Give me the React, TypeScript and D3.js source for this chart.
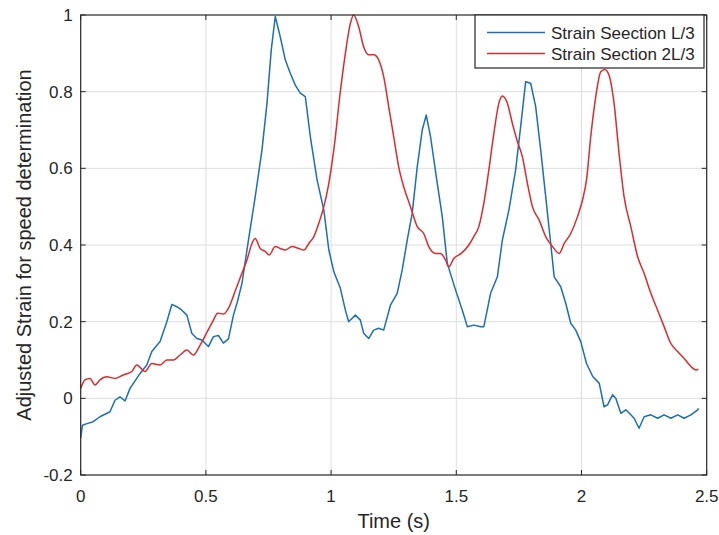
import React, { useRef, useEffect } from "react";
import * as d3 from "d3";

// Strain Seection L/3 (blue)
const blueTime = [0, 0.007, 0.025, 0.05, 0.077, 0.117, 0.137, 0.157, 0.177, 0.197, 0.237, 0.264, 0.284, 0.317, 0.344, 0.364, 0.384, 0.404, 0.424, 0.444, 0.464, 0.484, 0.51, 0.53, 0.55, 0.57, 0.59, 0.61, 0.625, 0.644, 0.67, 0.697, 0.724, 0.744, 0.761, 0.777, 0.797, 0.817, 0.837, 0.857, 0.877, 0.897, 0.917, 0.944, 0.971, 0.991, 1.011, 1.037, 1.057, 1.07, 1.097, 1.117, 1.13, 1.15, 1.17, 1.19, 1.21, 1.237, 1.264, 1.284, 1.304, 1.324, 1.344, 1.364, 1.38, 1.397, 1.424, 1.444, 1.464, 1.497, 1.524, 1.544, 1.57, 1.597, 1.61, 1.637, 1.664, 1.684, 1.71, 1.737, 1.757, 1.777, 1.797, 1.817, 1.837, 1.857, 1.877, 1.891, 1.917, 1.937, 1.957, 1.977, 1.997, 2.02, 2.045, 2.071, 2.09, 2.104, 2.124, 2.137, 2.157, 2.177, 2.197, 2.21, 2.23, 2.25, 2.277, 2.304, 2.33, 2.357, 2.384, 2.41, 2.437, 2.464, 2.467];
const blueStrain = [-0.104, -0.07, -0.066, -0.061, -0.048, -0.035, -0.005, 0.004, -0.007, 0.026, 0.065, 0.087, 0.122, 0.148, 0.2, 0.245, 0.239, 0.23, 0.217, 0.169, 0.156, 0.152, 0.135, 0.161, 0.164, 0.144, 0.155, 0.217, 0.25, 0.3, 0.413, 0.526, 0.648, 0.77, 0.909, 0.996, 0.943, 0.883, 0.848, 0.817, 0.796, 0.787, 0.683, 0.57, 0.491, 0.387, 0.33, 0.287, 0.23, 0.2, 0.217, 0.204, 0.17, 0.156, 0.178, 0.183, 0.178, 0.243, 0.274, 0.335, 0.413, 0.483, 0.604, 0.7, 0.739, 0.683, 0.561, 0.474, 0.352, 0.283, 0.23, 0.187, 0.191, 0.187, 0.187, 0.274, 0.317, 0.413, 0.491, 0.596, 0.709, 0.826, 0.822, 0.761, 0.648, 0.526, 0.404, 0.317, 0.291, 0.248, 0.196, 0.178, 0.148, 0.091, 0.057, 0.039, -0.022, -0.017, 0.009, 0.0, -0.039, -0.03, -0.043, -0.052, -0.078, -0.048, -0.043, -0.052, -0.043, -0.052, -0.043, -0.052, -0.043, -0.03, -0.026];

// Strain Section 2L/3 (red)
const redTime = [0, 0.017, 0.037, 0.057, 0.077, 0.104, 0.137, 0.17, 0.204, 0.224, 0.257, 0.284, 0.317, 0.344, 0.37, 0.397, 0.424, 0.45, 0.477, 0.504, 0.527, 0.547, 0.571, 0.59, 0.617, 0.64, 0.664, 0.684, 0.697, 0.717, 0.737, 0.753, 0.777, 0.797, 0.817, 0.844, 0.871, 0.891, 0.911, 0.931, 0.951, 0.971, 0.991, 1.014, 1.035, 1.057, 1.077, 1.09, 1.11, 1.13, 1.15, 1.17, 1.19, 1.21, 1.23, 1.25, 1.27, 1.29, 1.317, 1.344, 1.37, 1.39, 1.417, 1.437, 1.457, 1.47, 1.49, 1.52, 1.55, 1.57, 1.59, 1.61, 1.63, 1.65, 1.67, 1.684, 1.704, 1.724, 1.744, 1.764, 1.784, 1.804, 1.831, 1.857, 1.884, 1.911, 1.931, 1.957, 1.984, 2.005, 2.02, 2.037, 2.057, 2.077, 2.093, 2.11, 2.13, 2.15, 2.17, 2.197, 2.224, 2.25, 2.277, 2.304, 2.33, 2.357, 2.384, 2.41, 2.437, 2.457, 2.467];
const redStrain = [0.026, 0.048, 0.052, 0.035, 0.048, 0.056, 0.052, 0.061, 0.07, 0.087, 0.07, 0.091, 0.087, 0.1, 0.1, 0.113, 0.126, 0.113, 0.139, 0.172, 0.2, 0.222, 0.22, 0.235, 0.28, 0.32, 0.361, 0.404, 0.417, 0.391, 0.383, 0.374, 0.396, 0.391, 0.387, 0.396, 0.391, 0.387, 0.404, 0.422, 0.457, 0.5, 0.561, 0.665, 0.79, 0.9, 0.978, 1.0, 0.97, 0.917, 0.896, 0.896, 0.883, 0.839, 0.761, 0.683, 0.604, 0.552, 0.5, 0.448, 0.43, 0.396, 0.378, 0.378, 0.361, 0.343, 0.365, 0.378, 0.4, 0.422, 0.448, 0.509, 0.596, 0.691, 0.77, 0.789, 0.77, 0.717, 0.67, 0.63, 0.561, 0.5, 0.465, 0.422, 0.396, 0.378, 0.404, 0.43, 0.474, 0.52, 0.57, 0.683, 0.787, 0.852, 0.858, 0.843, 0.77, 0.639, 0.526, 0.448, 0.37, 0.326, 0.274, 0.23, 0.187, 0.143, 0.122, 0.104, 0.083, 0.074, 0.076];

const xTicks = [0, 0.5, 1, 1.5, 2, 2.5];
const yTicks = [-0.2, 0, 0.2, 0.4, 0.6, 0.8, 1];
const seriesNames = ["Strain Seection L/3", "Strain Section 2L/3"];
const seriesColors = ["#1a6fb8", "#dc2a2e"];

const FONT = "Arial, 'Liberation Sans', Helvetica, sans-serif";

const StrainChart = ({ width = 719, height = 535 }) => {
    const svgRef = useRef(null);

    useEffect(() => {
        const svg = d3.select(svgRef.current);
        svg.selectAll("*").remove();

        const margin = { top: 15, right: 12.3, bottom: 60, left: 80.7 };
        const x0 = margin.left;
        const x1 = width - margin.right;
        const y0 = height - margin.bottom;
        const y1 = margin.top;

        const xScale = d3.scaleLinear().domain([0, 2.5]).range([x0, x1]);
        const yScale = d3.scaleLinear().domain([-0.2, 1]).range([y0, y1]);

        svg.append("rect").attr("width", width).attr("height", height).attr("fill", "#fff");

        // grid
        const grid = svg.append("g").attr("stroke", "#dedede").attr("stroke-width", 1);
        xTicks.slice(1, -1).forEach(t => {
            grid.append("line")
                .attr("x1", xScale(t)).attr("x2", xScale(t))
                .attr("y1", y1).attr("y2", y0);
        });
        yTicks.slice(1, -1).forEach(t => {
            grid.append("line")
                .attr("x1", x0).attr("x2", x1)
                .attr("y1", yScale(t)).attr("y2", yScale(t));
        });

        // series: blue is raw/noisy, red is smooth
        const blueLine = d3.line().x(d => xScale(d[0])).y(d => yScale(d[1]));
        const redLine = d3.line().x(d => xScale(d[0])).y(d => yScale(d[1])).curve(d3.curveMonotoneX);
        const series = [
            { pts: d3.zip(blueTime, blueStrain), gen: blueLine },
            { pts: d3.zip(redTime, redStrain), gen: redLine },
        ];
        series.forEach((s, i) => {
            svg.append("path")
                .datum(s.pts)
                .attr("d", s.gen)
                .attr("fill", "none")
                .attr("stroke", seriesColors[i])
                .attr("stroke-width", 1.5)
                .attr("stroke-linejoin", "round");
        });

        // box + inward ticks
        const axisColor = "#262626";
        svg.append("rect")
            .attr("x", x0).attr("y", y1)
            .attr("width", x1 - x0).attr("height", y0 - y1)
            .attr("fill", "none").attr("stroke", axisColor).attr("stroke-width", 1.2);

        const ticks = svg.append("g").attr("stroke", axisColor).attr("stroke-width", 1);
        xTicks.forEach(t => {
            ticks.append("line").attr("x1", xScale(t)).attr("x2", xScale(t)).attr("y1", y0).attr("y2", y0 - 5);
            ticks.append("line").attr("x1", xScale(t)).attr("x2", xScale(t)).attr("y1", y1).attr("y2", y1 + 5);
        });
        yTicks.forEach(t => {
            ticks.append("line").attr("x1", x0).attr("x2", x0 + 5).attr("y1", yScale(t)).attr("y2", yScale(t));
            ticks.append("line").attr("x1", x1).attr("x2", x1 - 5).attr("y1", yScale(t)).attr("y2", yScale(t));
        });

        // tick labels
        svg.append("g")
            .selectAll("text")
            .data(xTicks)
            .enter()
            .append("text")
            .attr("x", d => xScale(d))
            .attr("y", y0 + 27)
            .attr("text-anchor", "middle")
            .attr("font-family", FONT)
            .attr("font-size", 17)
            .attr("fill", axisColor)
            .text(d => String(d));

        svg.append("g")
            .selectAll("text")
            .data(yTicks)
            .enter()
            .append("text")
            .attr("x", x0 - 8)
            .attr("y", d => yScale(d) + 6)
            .attr("text-anchor", "end")
            .attr("font-family", FONT)
            .attr("font-size", 17)
            .attr("fill", axisColor)
            .text(d => String(d));

        // axis labels
        svg.append("text")
            .attr("x", (x0 + x1) / 2)
            .attr("y", y0 + 53)
            .attr("text-anchor", "middle")
            .attr("font-family", FONT)
            .attr("font-size", 20)
            .attr("fill", axisColor)
            .text("Time (s)");

        svg.append("text")
            .attr("transform", `translate(31, ${(y0 + y1) / 2}) rotate(-90)`)
            .attr("text-anchor", "middle")
            .attr("font-family", FONT)
            .attr("font-size", 20)
            .attr("fill", axisColor)
            .text("Adjusted Strain for speed determination");

        // legend
        const legend = svg.append("g");
        legend.append("rect")
            .attr("x", 475).attr("y", y1)
            .attr("width", 229).attr("height", 53)
            .attr("fill", "#fff").attr("stroke", axisColor).attr("stroke-width", 1.2);
        seriesNames.forEach((name, i) => {
            const ly = 32.5 + i * 21;
            legend.append("line")
                .attr("x1", 487).attr("x2", 545)
                .attr("y1", ly).attr("y2", ly)
                .attr("stroke", seriesColors[i]).attr("stroke-width", 1.5);
            legend.append("text")
                .attr("x", 551).attr("y", ly + 6)
                .attr("font-family", FONT)
                .attr("font-size", 17)
                .attr("fill", axisColor)
                .text(name);
        });
    }, [width, height]);

    return <svg ref={svgRef} width={width} height={height} style={{ position: "absolute", left: 0, top: 0 }}></svg>;
};

export default function App() {
    return <StrainChart />;
}
